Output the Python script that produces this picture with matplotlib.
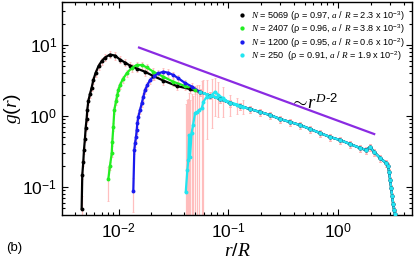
import numpy as np
import matplotlib
matplotlib.use("Agg")
import matplotlib.pyplot as plt

plt.rcParams['font.family'] = ['Liberation Sans', 'DejaVu Sans']
plt.rcParams['mathtext.fontset'] = 'custom'
plt.rcParams['mathtext.rm'] = 'Liberation Sans'
plt.rcParams['mathtext.it'] = 'Liberation Serif:italic'
plt.rcParams['mathtext.bf'] = 'Liberation Sans:bold'
plt.rcParams['mathtext.default'] = 'it'
plt.rcParams['axes.unicode_minus'] = False

# ---------------- data ----------------
# common large-r part shared by all system sizes
common_r = [0.0555, 0.0685, 0.0845, 0.1043, 0.1287, 0.1588, 0.1960, 0.2419, 0.2985,
            0.3684, 0.4546, 0.5610, 0.6923, 0.8543, 1.054, 1.301, 1.606, 1.821,
            1.981, 2.155, 2.444, 2.774, 2.892, 2.953, 3.016, 3.080, 3.145, 3.212,
            3.281, 3.350]
common_g = [2.18, 1.945, 1.735, 1.523, 1.383, 1.255, 1.139, 1.033, 0.907,
            0.823, 0.747, 0.656, 0.576, 0.506, 0.459, 0.403, 0.354, 0.332,
            0.366, 0.311, 0.256, 0.218, 0.1976, 0.1627, 0.1255, 0.0968, 0.0747,
            0.0576, 0.0474, 0.0417]

black_r = [0.00461, 0.00467, 0.00477, 0.00484, 0.00494, 0.00502, 0.00512, 0.00519,
           0.00530, 0.00549, 0.00569, 0.00589, 0.00617, 0.00657, 0.00702, 0.00753,
           0.00836, 0.00929, 0.01032, 0.01146, 0.01274, 0.01466, 0.01746, 0.02079,
           0.02566, 0.03401, 0.04498]
black_g = [0.0498, 0.1476, 0.2250, 0.332, 0.482, 0.689, 0.923, 1.216,
           1.626, 2.04, 2.52, 3.21, 4.03, 5.06, 5.95, 6.67,
           7.35, 7.11, 6.25, 5.67, 5.14, 4.67, 4.21, 3.66,
           3.16, 2.65, 2.40]

green_r = [0.00807, 0.00836, 0.00867, 0.00878, 0.00897, 0.00916, 0.00949, 0.00975,
           0.00996, 0.01032, 0.01092, 0.01188, 0.01320, 0.01466, 0.01629, 0.01809,
           0.02079, 0.02566, 0.03166, 0.04049, 0.04995]
green_g = [0.1284, 0.1995, 0.2984, 0.4345, 0.707, 1.216, 1.626, 1.977,
           2.32, 2.73, 3.29, 3.99, 4.79, 5.23, 5.23, 4.85,
           4.21, 3.58, 3.04, 2.65, 2.36]

blue_r = [0.01365, 0.01394, 0.01415, 0.01445, 0.01466, 0.01485, 0.01516, 0.01572,
          0.01629, 0.01685, 0.01746, 0.01832, 0.01940, 0.02110, 0.02310, 0.02566,
          0.02850, 0.03166, 0.03517, 0.04049, 0.04690]
blue_g = [0.0887, 0.332, 0.4125, 0.511, 0.635, 0.789, 0.977, 1.216,
          1.510, 1.871, 2.32, 2.73, 3.21, 3.66, 3.99, 4.21,
          4.07, 3.78, 3.40, 2.92, 2.60]

cyan_r = [0.0411, 0.0425, 0.0434, 0.0441, 0.0450, 0.0464, 0.0479, 0.0500, 0.0521,
          0.0547, 0.0575, 0.0595, 0.0639, 0.0710, 0.0761, 0.0815, 0.0906, 0.1043,
          0.1201, 0.1371]
cyan_g = [0.0859, 0.1735, 0.240, 0.540, 0.265, 0.576, 0.747, 1.102, 1.139,
          1.216, 1.284, 1.590, 1.871, 1.977, 2.199, 1.977, 1.775, 1.510,
          1.429, 1.361]
cyan_err = [1.4, 1.5, 1.5, 1.6, 1.4, 1.5, 1.2, 1.5, 1.6,
            1.5, 1.8, 1.6, 1.4, 1.3, 1.2, 1.0, 0.8, 0.5,
            0.35, 0.3]
rel_err = 0.12  # typical relative error of the larger systems

labels = [r"$N$ = 5069 (ρ = 0.97, $a$ / $R$ = 2.3 x 10$^{\mathrm{-3}}$)",
          r"$N$ = 2407 (ρ = 0.96, $a$ / $R$ = 3.8 x 10$^{\mathrm{-3}}$)",
          r"$N$ = 1200 (ρ = 0.95, $a$ / $R$ = 0.6 x 10$^{\mathrm{-2}}$)",
          r"$N$ = 250  (ρ = 0.91, $a$ / $R$ = 1.9 x 10$^{\mathrm{-2}}$)"]
colors = ['#000000', '#22ee22', '#1a1aee', '#22e5f0']

guide_r = [0.01539, 2.155]
guide_g = [9.22, 0.558]

xticks = [0.01, 0.1, 1.0]
xticklabels = [r"10$^{\mathrm{-2}}$", r"10$^{\mathrm{-1}}$", r"10$^{\mathrm{0}}$"]
yticks = [0.1, 1.0, 10.0]
yticklabels = [r"10$^{\mathrm{-1}}$", r"10$^{\mathrm{0}}$", r"10$^{\mathrm{1}}$"]

# ---------------- figure ----------------
fig = plt.figure(figsize=(4.15, 2.63), dpi=100)
ax = fig.add_axes([62/415, 1-215/263, (411.7-62)/415, (215-2)/263])
ax.set_xscale('log')
ax.set_yscale('log')

series = [(black_r, black_g, None), (green_r, green_g, None),
          (blue_r, blue_g, None), (cyan_r, cyan_g, cyan_err)]
for (r, g, e), c, lab in zip(series, colors, labels):
    rr = np.array(list(r) + common_r)
    gg = np.array(list(g) + common_g)
    if e is None:
        ee = rel_err * gg
        ee[0] = 0.5 * gg[0]
    else:
        ee = np.array(list(e) + list(rel_err * np.array(common_g)))
    ax.errorbar(rr, gg, yerr=ee, fmt='none', ecolor='#ffb4b4', elinewidth=0.9,
                capsize=1.0, capthick=0.6, alpha=0.85, zorder=1)
    ax.plot(rr, gg, '-', color=c, lw=1.6, zorder=2)
    ax.plot(rr, gg, 'o', color=c, ms=2.8, mec='none', zorder=3, label=lab)

ax.plot(guide_r, guide_g, '-', color='#8a2be2', lw=1.6, zorder=4)
ax.text(0.37, 1.25, r"$\sim\!r^{D\mathrm{\text{-}}2}$", fontsize=13.5, ha='left', va='baseline')

ax.set_xlim(0.00305, 4.74)
ax.set_ylim(0.0404, 40.4)
ax.set_xticks(xticks)
ax.set_xticklabels(xticklabels)
ax.set_yticks(yticks)
ax.set_yticklabels(yticklabels)
ax.tick_params(which='both', direction='in', top=True, right=True, width=0.8,
               labelsize=12.5)
ax.tick_params(which='major', length=4)
ax.tick_params(which='minor', length=2.2)
ax.tick_params(axis='x', which='major', pad=5)
for s in ax.spines.values():
    s.set_linewidth(1.0)

ax.set_xlabel(r"$r/R$", fontsize=14, labelpad=1)
ax.set_ylabel(r"$g(r)$", fontsize=14)
ax.yaxis.set_label_coords(-0.112, 0.5)

leg = ax.legend(loc='upper right', bbox_to_anchor=(1.0, 1.0), frameon=False,
                fontsize=6.6, handlelength=0.6, handletextpad=0.7,
                labelspacing=0.05, borderaxespad=0.35, markerscale=1.1)

fig.text(14/415, 1-248/263, "(b)", fontsize=9.5, ha='center', va='center')

fig.savefig("out.png", dpi=100)
